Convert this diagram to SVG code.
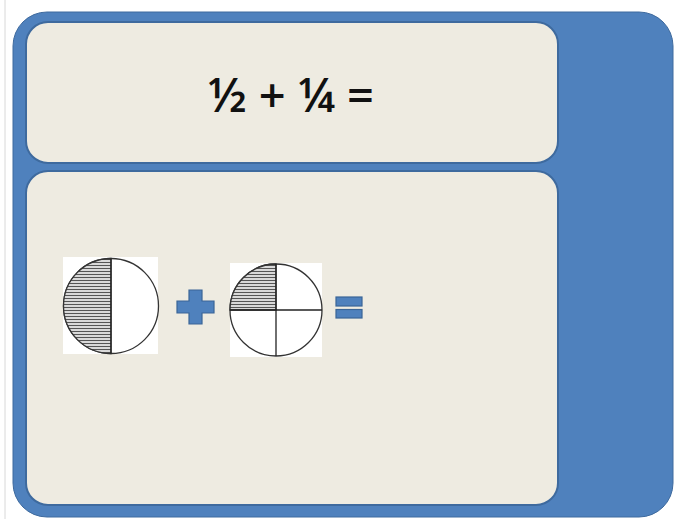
<svg xmlns="http://www.w3.org/2000/svg" width="674" height="519" viewBox="0 0 674 519">
<defs>
<style>
.panel{fill:#EEEBE1;stroke:#3E6A9E;stroke-width:2}
.pic{fill:#FFFFFF}
.circ{fill:#FFFFFF;stroke:#333;stroke-width:1.3}
.div{stroke:#222;stroke-width:1.3}
.sym{fill:#4F81BD;stroke:#3A6597;stroke-width:1.2}
</style>
<pattern id="hatch" patternUnits="userSpaceOnUse" width="6" height="3">
<rect width="6" height="3" fill="#E8E8E8"/>
<line x1="0" y1="1.5" x2="6" y2="1.5" stroke="#555" stroke-width="1.2"/>
</pattern>
</defs>
<rect x="0" y="0" width="674" height="519" fill="#FFFFFF"/>
<line x1="5" y1="0" x2="5" y2="519" stroke="#D8D8D8" stroke-width="1"/>
<g id="background">
<rect x="13" y="12" width="660" height="505" rx="34" ry="34" fill="#4F81BD" stroke="#3E6A9E" stroke-width="1"/>
</g>
<g id="top-panel">
<rect class="panel" x="26" y="22" width="532" height="141" rx="22" ry="22"/>
<text x="291" y="112" font-family="Open Sans, Liberation Sans, sans-serif" font-size="47" font-weight="600" text-anchor="middle" fill="#111">½ + ¼ =</text>
</g>
<g id="bottom-panel">
<rect class="panel" x="26" y="171" width="532" height="334" rx="22" ry="22"/>
</g>
<g id="half">
<rect class="pic" x="63" y="257" width="95" height="97"/>
<circle class="circ" cx="111" cy="306" r="47.5"/>
<path d="M111,258.5 A47.5,47.5 0 0 0 111,353.5 Z" fill="url(#hatch)" stroke="#333" stroke-width="1.3"/>
<line class="div" x1="111" y1="258.5" x2="111" y2="353.5"/>
</g>
<g id="plus">
<path class="sym" d="M189,290 H202 V301 H214 V313 H202 V324 H189 V313 H177 V301 H189 Z"/>
</g>
<g id="quarter">
<rect class="pic" x="230" y="263" width="92" height="94"/>
<circle class="circ" cx="276" cy="310" r="46"/>
<path d="M276,310 V264 A46,46 0 0 0 230,310 Z" fill="url(#hatch)" stroke="#333" stroke-width="1.3"/>
<line class="div" x1="276" y1="264" x2="276" y2="356"/>
<line class="div" x1="230" y1="310" x2="322" y2="310"/>
</g>
<g id="equals">
<rect class="sym" x="336" y="297" width="26" height="9"/>
<rect class="sym" x="336" y="309.5" width="26" height="8.5"/>
</g>
<g id="connectors"></g>
</svg>
